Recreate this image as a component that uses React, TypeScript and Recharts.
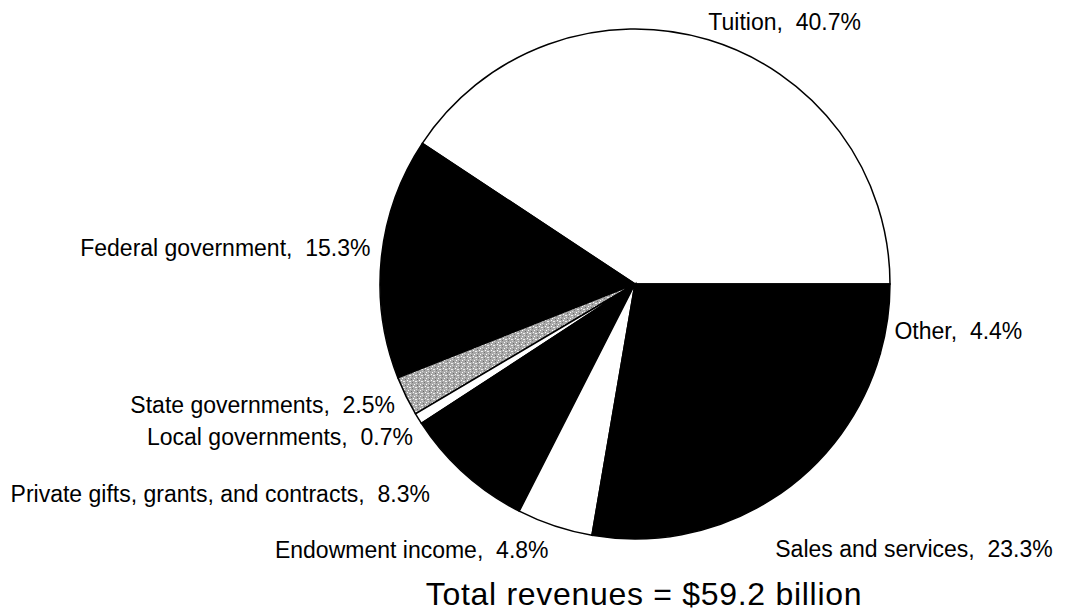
import React from 'react';
import { PieChart, Pie, Cell } from 'recharts';

// Revenue sources (percent of total)
const categories = [
  'Tuition',
  'Federal government',
  'State governments',
  'Local governments',
  'Private gifts, grants, and contracts',
  'Endowment income',
  'Sales and services',
  'Other',
];
const shares = [40.7, 15.3, 2.5, 0.7, 8.3, 4.8, 23.3, 4.4];
const fills = ['#ffffff', '#000000', 'url(#stipple)', '#ffffff', '#000000', '#ffffff', '#000000', '#000000'];

// label nudges relative to the slice's mid-angle point
const labelNudge = [
  { dx: -3, dy: -8, anchor: 'start' },
  { dx: -1, dy: -9, anchor: 'end' },
  { dx: -2, dy: 4, anchor: 'end' },
  { dx: 3, dy: 13, anchor: 'end' },
  { dx: -28, dy: 13, anchor: 'end' },
  { dx: -3, dy: 14, anchor: 'end' },
  { dx: -1, dy: 41, anchor: 'start' },
  { dx: -3, dy: 10, anchor: 'start' },
];

const data = categories.map((name, i) => ({ name, value: shares[i] }));

const RADIAN = Math.PI / 180;

const renderLabel = (props: any) => {
  const { cx, cy, midAngle, outerRadius, index } = props;
  const r = outerRadius + 10;
  const x = cx + r * Math.cos(-midAngle * RADIAN);
  const y = cy + r * Math.sin(-midAngle * RADIAN);
  const n = labelNudge[index];
  return (
    <text
      x={x + n.dx}
      y={y + n.dy}
      textAnchor={n.anchor as any}
      dominantBaseline="central"
      fill="#000"
      fontSize={23}
      fontFamily="'Liberation Sans', Arial, sans-serif"
    >
      {`${data[index].name},\u00a0\u00a0${data[index].value}%`}
    </text>
  );
};

export default function App() {
  return (
    <div style={{ position: 'absolute', left: 0, top: 0, width: 1067, height: 610, background: '#fff' }}>
      <PieChart width={1067} height={610}>
        <defs>
          <pattern id="stipple" width="6" height="6" patternUnits="userSpaceOnUse">
            <rect width="6" height="6" fill="#a8a8a8" />
            <rect x="0" y="0" width="1" height="1" fill="#ffffff" />
            <rect x="3" y="1" width="1" height="1" fill="#6a6a6a" />
            <rect x="1" y="3" width="2" height="1" fill="#f0f0f0" />
            <rect x="4" y="4" width="1" height="1" fill="#777777" />
            <rect x="5" y="2" width="1" height="1" fill="#ffffff" />
            <rect x="2" y="5" width="1" height="1" fill="#dddddd" />
          </pattern>
        </defs>
        <Pie
          data={data}
          dataKey="value"
          nameKey="name"
          cx={630}
          cy={279}
          outerRadius={255}
          startAngle={0}
          endAngle={360}
          stroke="#000"
          strokeWidth={1.5}
          label={renderLabel}
          labelLine={false}
          isAnimationActive={false}
        >
          {data.map((d, i) => (
            <Cell key={d.name} fill={fills[i]} />
          ))}
        </Pie>
      </PieChart>
      <div
        style={{
          position: 'absolute',
          left: 0,
          width: 1288,
          top: 576,
          textAlign: 'center',
          fontFamily: "'Liberation Sans', Arial, sans-serif",
          fontSize: 32,
          letterSpacing: 0.7,
          lineHeight: '36px',
          color: '#000',
        }}
      >
        Total revenues = $59.2 billion
      </div>
    </div>
  );
}
